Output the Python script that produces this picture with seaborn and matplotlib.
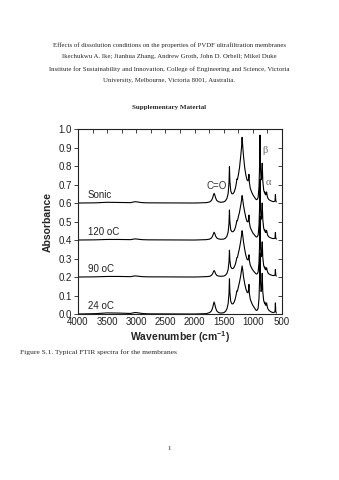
import numpy as np
import pandas as pd
import matplotlib
matplotlib.use("Agg")
import matplotlib.pyplot as plt
import seaborn as sns
from matplotlib.ticker import MultipleLocator

# ---------------- data ----------------
wavenumber = [4000, 3700, 3500, 3300, 3100, 3025, 2985, 2900, 2800, 2000, 1800,
              1740, 1710, 1690, 1675, 1665, 1655, 1640, 1620, 1590, 1550,
              1500, 1470, 1445, 1425, 1410, 1402, 1395, 1380, 1360, 1340, 1320,
              1300, 1285, 1275, 1265, 1250, 1230, 1210, 1195, 1185, 1175, 1160,
              1140, 1120, 1100, 1085, 1075, 1068, 1060, 1045, 1020, 1000, 975,
              955, 940, 925, 910, 895, 885, 878, 870, 860, 850, 840, 830, 815,
              800, 795, 785, 775, 765, 755, 745, 730, 710, 690, 660, 635, 620,
              614, 608, 598]

sonic = [0.000, 0.001, 0.004, 0.003, 0.002, 0.007, 0.006, 0.002, 0.001, 0.000, 0.002,
         0.006, 0.014, 0.028, 0.045, 0.052, 0.045, 0.028, 0.014, 0.007, 0.004,
         0.006, 0.012, 0.025, 0.050, 0.110, 0.196, 0.120, 0.065, 0.050, 0.050, 0.060,
         0.080, 0.105, 0.130, 0.128, 0.150, 0.190, 0.250, 0.300, 0.355, 0.310, 0.250,
         0.190, 0.150, 0.125, 0.120, 0.130, 0.155, 0.110, 0.080, 0.058, 0.045, 0.032,
         0.023, 0.018, 0.020, 0.030, 0.090, 0.200, 0.367, 0.190, 0.125, 0.135, 0.215,
         0.120, 0.070, 0.055, 0.060, 0.045, 0.045, 0.060, 0.040, 0.028, 0.020, 0.015,
         0.012, 0.008, 0.008, 0.012, 0.045, 0.012, 0.006]

c120 = [0.000, 0.001, 0.003, 0.003, 0.002, 0.006, 0.005, 0.002, 0.001, 0.000, 0.002,
        0.005, 0.011, 0.022, 0.036, 0.042, 0.036, 0.022, 0.011, 0.006, 0.004,
        0.005, 0.010, 0.021, 0.042, 0.090, 0.162, 0.100, 0.055, 0.045, 0.045, 0.052,
        0.068, 0.088, 0.105, 0.104, 0.125, 0.150, 0.185, 0.215, 0.240, 0.220, 0.185,
        0.150, 0.120, 0.100, 0.098, 0.110, 0.135, 0.095, 0.068, 0.050, 0.038, 0.028,
        0.020, 0.016, 0.018, 0.027, 0.080, 0.180, 0.330, 0.172, 0.112, 0.122, 0.200,
        0.110, 0.064, 0.050, 0.055, 0.041, 0.041, 0.052, 0.036, 0.025, 0.018, 0.014,
        0.011, 0.008, 0.008, 0.011, 0.040, 0.011, 0.005]

c90 = [0.000, 0.001, 0.003, 0.003, 0.002, 0.006, 0.005, 0.002, 0.001, 0.000, 0.002,
       0.004, 0.009, 0.018, 0.030, 0.035, 0.030, 0.018, 0.009, 0.005, 0.004,
       0.005, 0.010, 0.020, 0.040, 0.082, 0.145, 0.092, 0.055, 0.046, 0.046, 0.054,
       0.070, 0.090, 0.105, 0.106, 0.128, 0.155, 0.192, 0.225, 0.250, 0.228, 0.188,
       0.148, 0.116, 0.096, 0.092, 0.102, 0.120, 0.088, 0.064, 0.048, 0.037, 0.027,
       0.020, 0.016, 0.018, 0.027, 0.080, 0.180, 0.330, 0.170, 0.110, 0.117, 0.190,
       0.105, 0.062, 0.049, 0.054, 0.040, 0.040, 0.050, 0.035, 0.025, 0.018, 0.014,
       0.011, 0.008, 0.008, 0.011, 0.040, 0.011, 0.005]

c24 = [0.000, 0.002, 0.006, 0.005, 0.003, 0.008, 0.007, 0.003, 0.001, 0.000, 0.002,
       0.008, 0.017, 0.034, 0.055, 0.065, 0.055, 0.034, 0.017, 0.008, 0.005,
       0.007, 0.014, 0.028, 0.055, 0.110, 0.190, 0.120, 0.068, 0.055, 0.055, 0.065,
       0.085, 0.108, 0.125, 0.124, 0.145, 0.172, 0.205, 0.238, 0.260, 0.240, 0.200,
       0.163, 0.135, 0.118, 0.115, 0.130, 0.160, 0.110, 0.080, 0.059, 0.046, 0.034,
       0.024, 0.019, 0.021, 0.032, 0.085, 0.190, 0.330, 0.180, 0.122, 0.132, 0.220,
       0.120, 0.072, 0.058, 0.064, 0.048, 0.048, 0.060, 0.042, 0.030, 0.022, 0.016,
       0.012, 0.008, 0.009, 0.014, 0.060, 0.014, 0.005]

samples = ["24 oC", "90 oC", "120 oC", "Sonic"]
offsets = [0.0, 0.2, 0.4, 0.6]
spectra = [c24, c90, c120, sonic]

peak_labels = ["C=O", "\u03b2", "\u03b1"]
peak_label_pos = [(1620, 0.69), (800, 0.885), (735, 0.71)]

x_ticks = [4000, 3500, 3000, 2500, 2000, 1500, 1000, 500]
y_ticks = [0.0, 0.1, 0.2, 0.3, 0.4, 0.5, 0.6, 0.7, 0.8, 0.9, 1.0]

title_lines = [
    "Effects of dissolution conditions on the properties of PVDF ultrafiltration membranes",
    "Ikechukwu A. Ike; Jianhua Zhang, Andrew Groth, John D. Orbell; Mikel Duke",
    "Institute for Sustainability and Innovation, College of Engineering and Science, Victoria",
    "University, Melbourne, Victoria 8001, Australia.",
]
supp = "Supplementary Material"
caption = "Figure S.1. Typical FTIR spectra for the membranes"
page_no = "1"

for arr in spectra:
    assert len(arr) == len(wavenumber)

# ---------------- build table ----------------
rows = []
for name, off, vals in zip(samples, offsets, spectra):
    for w, v in zip(wavenumber, vals):
        rows.append({"sample": name, "wavenumber": w, "absorbance": v + off})
df = pd.DataFrame(rows)

# ---------------- style ----------------
sns.set_theme(style="ticks")
plt.rcParams["font.family"] = ["Liberation Sans", "DejaVu Sans"]
plt.rcParams["mathtext.fontset"] = "custom"
plt.rcParams["mathtext.rm"] = "Liberation Sans"
plt.rcParams["mathtext.bf"] = "Liberation Sans:bold"
plt.rcParams["mathtext.default"] = "bf"

fig = plt.figure(figsize=(3.39, 4.80), dpi=100)
fig.patch.set_facecolor("white")
ax = fig.add_axes([0.230, 0.3458, 0.602, 0.3854])

sns.lineplot(data=df, x="wavenumber", y="absorbance", hue="sample",
             palette={s: "black" for s in samples}, estimator=None, sort=False,
             legend=False, linewidth=0.8, ax=ax)

ax.set_xlim(4000, 500)
ax.set_ylim(0, 1.0)
ax.set_xticks(x_ticks)
ax.set_xticklabels([str(t) for t in x_ticks])
ax.set_yticks(y_ticks)
ax.set_yticklabels([f"{t:.1f}" for t in y_ticks])

ax.tick_params(axis="x", bottom=True, top=False, length=0, labelsize=7, pad=2.5,
               colors="#222222")
ax.tick_params(axis="y", left=True, right=False, direction="out", length=3,
               width=0.6, labelsize=7, pad=1.5, colors="#222222")

# top ticks (inward, every 250) and right ticks (inward, every 0.1)
top = ax.secondary_xaxis("top")
top.xaxis.set_major_locator(MultipleLocator(250))
top.tick_params(direction="in", length=3, width=0.6, labeltop=False, colors="#222222")
top.spines["top"].set_visible(False)
right = ax.secondary_yaxis("right")
right.yaxis.set_major_locator(MultipleLocator(0.1))
right.tick_params(direction="in", length=3, width=0.6, labelright=False, colors="#222222")
right.spines["right"].set_visible(False)

for s in ax.spines.values():
    s.set_linewidth(0.8)
    s.set_color("#222222")
    s.set_visible(True)

ax.set_xlabel("Wavenumber (cm$^{-1}$)", fontsize=7.5, fontweight="bold", labelpad=1)
ax.set_ylabel("Absorbance", fontsize=7.5, fontweight="bold", labelpad=4)

for name, off in zip(samples, offsets):
    ax.text(3830, off + 0.045, name, fontsize=7, va="center", ha="left", color="#222222")

serif = ["Liberation Serif", "DejaVu Serif"]
ax.text(*peak_label_pos[0], peak_labels[0], fontsize=7, va="center", ha="center",
        color="#333333")
for lab, (px, py) in zip(peak_labels[1:], peak_label_pos[1:]):
    ax.text(px, py, lab, fontsize=7.5, va="center", ha="center", color="#666666",
            family=serif)

# ---------------- page text ----------------
for i, line in enumerate(title_lines):
    fig.text(0.5, 1 - (45 + i * 11.9) / 480, line, ha="center", va="center",
             fontsize=4.9, family=serif)
fig.text(0.5, 1 - 107 / 480, supp, ha="center", va="center", fontsize=5.0,
         fontweight="bold", family=serif)
fig.text(20 / 339, 1 - 352 / 480, caption, ha="left", va="center", fontsize=5.4,
         family=serif)
fig.text(169 / 339, 1 - 448 / 480, page_no, ha="center", va="center", fontsize=5.0,
         family=serif)

fig.savefig("out.png", dpi=100, facecolor="white")
